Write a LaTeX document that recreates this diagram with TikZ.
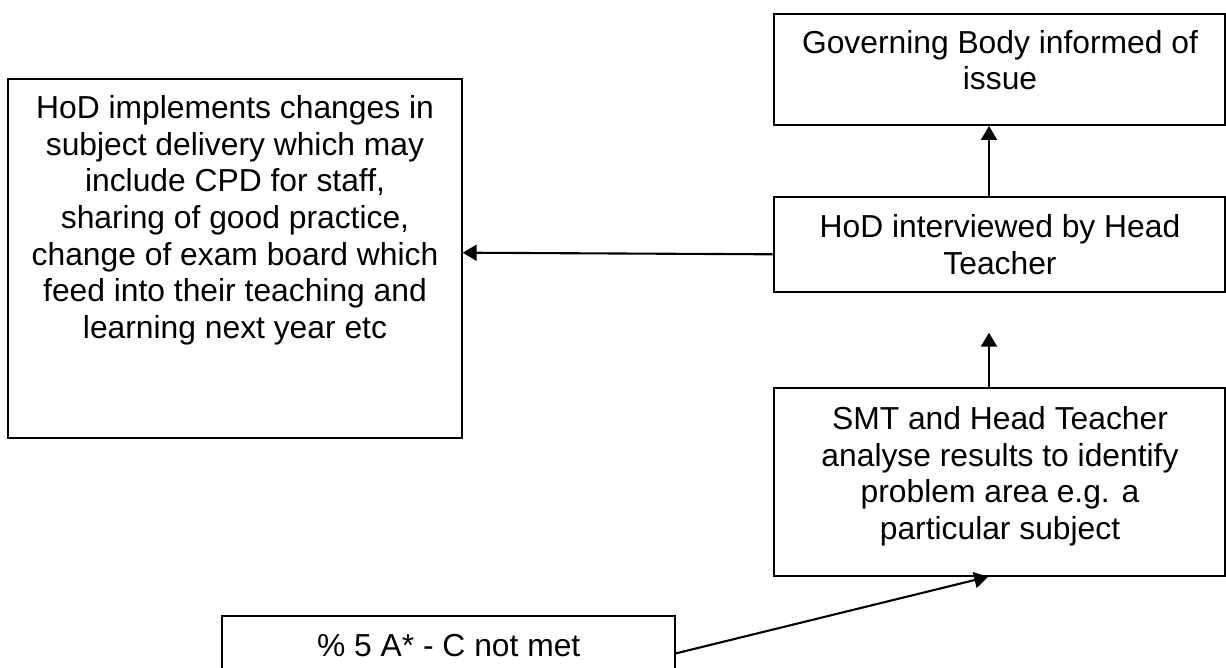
\documentclass[tikz,border=0pt]{standalone}
\usepackage{fontspec}
\setmainfont{Liberation Sans}
\usetikzlibrary{arrows.meta}
\begin{document}
\begin{tikzpicture}[x=1pt,y=-1pt,
  box/.style={draw, line width=2pt, inner sep=0pt},
  txt/.style={anchor=north, align=center, inner sep=0pt,
              font=\fontsize{31.8}{36.7}\selectfont},
  link/.style={line width=2.1pt, -{Triangle[length=14pt,width=16pt]}}]
\useasboundingbox (0,0) rectangle (1226,668);

% boxes
\node[box, minimum width=451.5pt, minimum height=111pt]   (gov)    at (999.25,69.5) {};
\node[box, minimum width=451.5pt, minimum height=95pt]    (hodint) at (999.25,244.2) {};
\node[box, minimum width=451.5pt, minimum height=187.7pt] (smt)    at (999.25,481.85) {};
\node[box, minimum width=453.4pt, minimum height=359pt]   (impl)   at (235,258.5) {};
\node[box, minimum width=452.7pt, minimum height=84.3pt]  (pct)    at (448.65,657.85) {};

% texts
\node[txt] (govtxt) at (1000,27.3) {\strut Governing Body informed of\\issue};
\node[txt] (hodinttxt) at (1000,211.8) {\strut HoD interviewed by Head\\Teacher};
\node[txt] (smttxt) at (1000,403.6) {\strut SMT and Head Teacher\\analyse results to identify\\problem area e.g. a\\particular subject};
\node[txt] (impltxt) at (235,92.6) {\strut HoD implements changes in\\subject delivery which may\\include CPD for staff,\\sharing of good practice,\\change of exam board which\\feed into their teaching and\\learning next year etc};
\node[txt] (pcttxt) at (448.7,631) {\strut \% 5 A* - C not met};

% connectors
\coordinate (uptip) at (989,332.7);
\draw[link] ([xshift=-10.25pt]hodint.north) -- ([xshift=-10.25pt]gov.south);
\draw[link] ([xshift=-10.25pt]smt.north) -- (uptip);
\draw[link] ([yshift=-10.1pt]hodint.west) -- ([yshift=5.8pt]impl.east);
\draw[link] ([yshift=4.5pt]pct.east) -- ([xshift=-11pt]smt.south);
\end{tikzpicture}
\end{document}
